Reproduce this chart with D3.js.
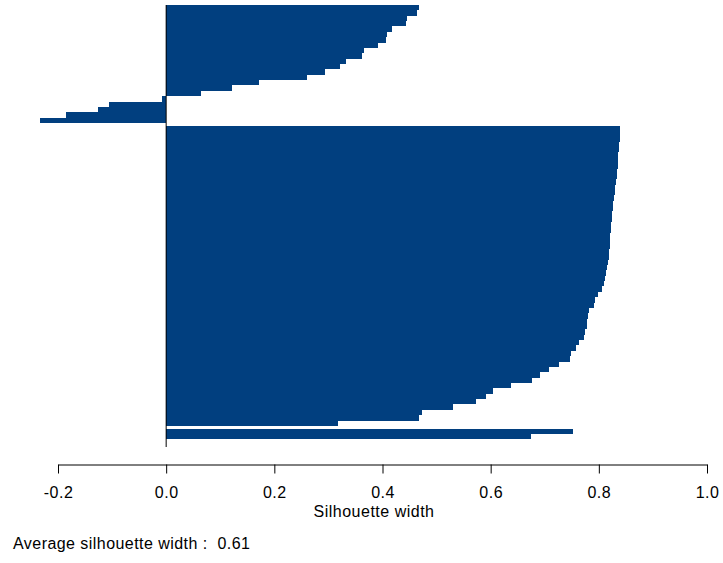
<!DOCTYPE html>
<html>
<head>
<meta charset="utf-8">
<script src="https://cdn.jsdelivr.net/npm/d3@7"></script>
<style>
  body { margin: 0; background: #fff; }
  svg { display: block; font-family: "Liberation Sans", Arial, sans-serif; }
</style>
</head>
<body>
<div id="chart"></div>
<script>
// silhouette widths, cluster by cluster, sorted as plotted (top to bottom)
const cluster1 = [
  0.468, 0.463, 0.445, 0.443, 0.417, 0.408, 0.406, 0.392, 0.366, 0.363,
  0.333, 0.322, 0.294, 0.261, 0.171, 0.122, 0.064,
  -0.008, -0.105, -0.126, -0.185, -0.234
];
const cluster2 = [
  0.840, 0.839, 0.839, 0.838, 0.837, 0.836, 0.835, 0.835, 0.834, 0.833,
  0.832, 0.830, 0.829, 0.828, 0.827, 0.826, 0.825, 0.824, 0.823, 0.822,
  0.821, 0.820, 0.820, 0.819, 0.818, 0.817, 0.815, 0.814, 0.812, 0.809,
  0.805, 0.799, 0.793, 0.791, 0.782, 0.780, 0.779, 0.778, 0.775, 0.773,
  0.764, 0.757, 0.749, 0.747, 0.726, 0.708, 0.691, 0.677, 0.637, 0.605,
  0.591, 0.572, 0.530, 0.473, 0.467, 0.317
];
const cluster3 = [0.752, 0.675];
const clusters = [cluster1, cluster2, cluster3];

const xTicks = [-0.2, 0.0, 0.2, 0.4, 0.6, 0.8, 1.0];
const avgWidth = 0.61;
const xLabel = "Silhouette width";

const width = 723;
const height = 563;
const barColor = "#013f7f";

// bar slots: each bar is 1 unit, half a unit of space between clusters
const bars = [];
let pos = 0;
clusters.forEach((cl, ci) => {
  if (ci > 0) pos += 0.5;
  cl.forEach((v) => {
    bars.push({ cluster: ci + 1, value: v, pos: pos });
    pos += 1;
  });
});
const totalUnits = pos;

const svg = d3.select("#chart")
  .append("svg")
  .attr("width", width)
  .attr("height", height);

const x = d3.scaleLinear().domain([-0.2, 1.0]).range([58, 707]);
const y = d3.scaleLinear().domain([0, totalUnits]).range([5, 439.3]);

// bars
svg.append("g")
  .selectAll("rect")
  .data(bars)
  .enter()
  .append("rect")
  .attr("x", (d) => x(Math.min(0, d.value)))
  .attr("width", (d) => Math.abs(x(d.value) - x(0)))
  .attr("y", (d) => y(d.pos))
  .attr("height", (d) => y(d.pos + 1) - y(d.pos))
  .attr("fill", barColor)
  .attr("shape-rendering", "crispEdges");

// zero line
svg.append("line")
  .attr("x1", x(0)).attr("x2", x(0))
  .attr("y1", y(0)).attr("y2", 447)
  .attr("stroke", "#000")
  .attr("stroke-width", 1);

// x axis
const axis = svg.append("g")
  .attr("transform", "translate(0,464.5)")
  .call(
    d3.axisBottom(x)
      .tickValues(xTicks)
      .tickFormat((d) => d.toFixed(1))
      .tickSize(9)
      .tickSizeOuter(0)
      .tickPadding(13)
  );
axis.select(".domain").attr("stroke", "#000");
axis.selectAll(".tick line").attr("stroke", "#000");
axis.selectAll(".tick text")
  .attr("fill", "#000")
  .style("font-size", "16px")
  .style("letter-spacing", "0.5px");

svg.append("text")
  .attr("x", 374)
  .attr("y", 517)
  .attr("text-anchor", "middle")
  .style("font-size", "16px")
  .style("letter-spacing", "0.5px")
  .text(xLabel);

svg.append("text")
  .attr("x", 13)
  .attr("y", 549)
  .attr("xml:space", "preserve")
  .style("white-space", "pre")
  .style("font-size", "16px")
  .style("letter-spacing", "0.45px")
  .text("Average silhouette width :  " + avgWidth.toFixed(2));
</script>
</body>
</html>
